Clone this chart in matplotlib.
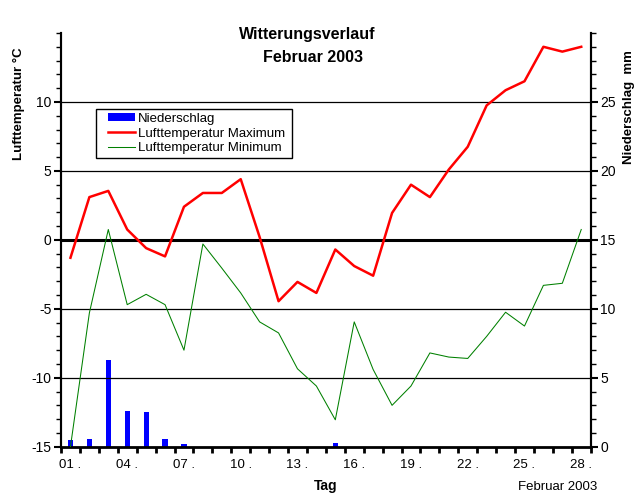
import matplotlib
matplotlib.use("Agg")
import matplotlib.pyplot as plt
from matplotlib.ticker import MultipleLocator, FixedLocator
from matplotlib.patches import Patch
from matplotlib.lines import Line2D
from matplotlib.legend_handler import HandlerLine2D, HandlerPatch

plt.rcParams['font.family'] = ['Liberation Sans', 'DejaVu Sans']
plt.rcParams['axes.unicode_minus'] = False

days = list(range(1, 29))
day_labels = ["%02d ." % d for d in range(1, 29, 3)]
day_label_pos = list(range(1, 29, 3))

t_max = [-1.3, 3.1, 3.55, 0.75, -0.6, -1.2, 2.4, 3.4, 3.4, 4.4,
         0.2, -4.45, -3.05, -3.85, -0.7, -1.9, -2.6, 1.95, 4.0, 3.1,
         5.1, 6.75, 9.75, 10.85, 11.5, 14.0, 13.65, 14.0]
t_min = [-15.0, -5.3, 0.75, -4.7, -3.95, -4.7, -8.0, -0.3, -2.05, -3.85,
         -5.95, -6.75, -9.35, -10.6, -13.05, -5.95, -9.4, -12.0, -10.6, -8.2,
         -8.5, -8.6, -7.0, -5.25, -6.25, -3.3, -3.15, 0.75]
precip_days = [1, 2, 3, 4, 5, 6, 7, 15]
precip = [0.5, 0.55, 6.3, 2.6, 2.5, 0.55, 0.2, 0.25]

temp_ticks = [-15, -10, -5, 0, 5, 10]
precip_ticks = [0, 5, 10, 15, 20, 25]

fig = plt.figure(figsize=(6.42, 5.03), dpi=100)
ax = fig.add_axes([61/642, 1-446.7/503, 529.7/642, 413.7/503])  # precipitation (right)
ax2 = ax.twinx()  # temperature (left)

# precipitation bars
ax.bar(precip_days, precip, width=0.27, color='#0000ff', zorder=2)
ax.set_ylim(0, 30)
ax.set_xlim(0.5, 28.5)
ax.yaxis.tick_right()
ax.yaxis.set_label_position('right')
ax.yaxis.set_major_locator(FixedLocator(precip_ticks))
ax.yaxis.set_minor_locator(MultipleLocator(1))

# temperature
ax2.yaxis.tick_left()
ax2.yaxis.set_label_position('left')
ax2.set_ylim(-15, 15)
ax2.yaxis.set_major_locator(FixedLocator(temp_ticks))
ax2.yaxis.set_minor_locator(MultipleLocator(1))
for v in temp_ticks[1:]:
    ax2.axhline(v, color='black', lw=2.2 if v == 0 else 0.9, zorder=1)
ax2.plot(days, t_min, color='#008000', lw=0.75, zorder=3)
ax2.plot(days, t_max, color='#ff0000', lw=1.8, zorder=4)

# x axis
ax.xaxis.set_major_locator(FixedLocator(day_label_pos))
ax.set_xticklabels(day_labels)
ax.xaxis.set_minor_locator(MultipleLocator(1, offset=0.5))
ax.tick_params(axis='x', which='major', length=0, pad=9, labelsize=9.5)
ax.tick_params(axis='x', which='minor', length=4, width=2)

for a in (ax, ax2):
    a.spines['top'].set_visible(False)
    a.patch.set_visible(False)
ax.spines['bottom'].set_linewidth(2.0)
ax.spines['left'].set_linewidth(1.5)
ax.spines['right'].set_linewidth(1.5)
ax2.spines['bottom'].set_visible(False)
ax2.spines['left'].set_linewidth(1.5)
ax2.spines['right'].set_linewidth(1.5)

ax.tick_params(axis='y', which='major', length=5, width=1.5, labelsize=10, pad=2)
ax.tick_params(axis='y', which='minor', length=3.5, width=1)
ax2.tick_params(axis='y', which='major', length=5, width=1.5, labelsize=10, pad=2)
ax2.tick_params(axis='y', which='minor', length=3.5, width=1)

ax2.set_ylabel('Lufttemperatur °C', fontweight='bold', fontsize=9.5)
ax.set_ylabel('Niederschlag  mm', fontweight='bold', fontsize=9.5)
ax2.yaxis.set_label_coords(-0.068, 0.8296)
ax.yaxis.set_label_coords(1.061, 0.820)

fig.text(307/642, 1-35/503, 'Witterungsverlauf', ha='center', va='center',
         fontweight='bold', fontsize=11.5)
fig.text(313/642, 1-58/503, 'Februar 2003', ha='center', va='center',
         fontweight='bold', fontsize=11.5)
fig.text(326/642, 1-486/503, 'Tag', ha='center', va='center',
         fontweight='bold', fontsize=10)
fig.text(597/642, 1-487/503, 'Februar 2003', ha='right', va='center', fontsize=9.5)

handles = [Patch(facecolor='#0000ff', edgecolor='none'),
           Line2D([], [], color='#ff0000', lw=1.8),
           Line2D([], [], color='#008000', lw=0.75)]
xp = 0.6
hmap = {handles[0]: HandlerPatch(xpad=xp),
        handles[1]: HandlerLine2D(xpad=xp),
        handles[2]: HandlerLine2D(xpad=xp)}
leg = ax2.legend(handles, ['Niederschlag', 'Lufttemperatur Maximum', 'Lufttemperatur Minimum'],
                 handler_map=hmap,
                 loc='upper left', bbox_to_anchor=(0.0655, 0.70, 0.370, 0.1163),
                 mode='expand', fontsize=9.5,
                 frameon=True, fancybox=False, framealpha=1, edgecolor='black',
                 handlelength=2.65, handleheight=0.6, handletextpad=0.23,
                 labelspacing=0.2, borderpad=0.3, borderaxespad=0)
leg.get_frame().set_linewidth(1)
leg.set_zorder(10)

fig.savefig('out.png', dpi=100)
